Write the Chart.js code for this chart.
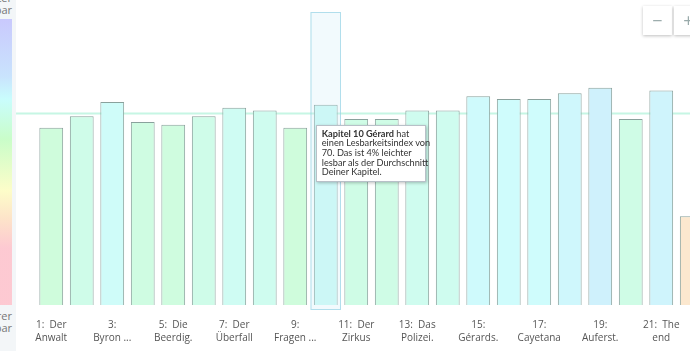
<!DOCTYPE html>
<html>
<head>
<meta charset="utf-8">
<script src="https://cdn.jsdelivr.net/npm/chart.js@4.4.0/dist/chart.umd.min.js"></script>
<style>
	body { margin: 0; width: 690px; height: 351px; overflow: hidden; position: relative; background: #fff; font-family: "Open Sans", sans-serif; }
	#wrap { position: absolute; left: 0; top: 0; width: 707px; height: 351px; }
	.side { position: absolute; left: 0; top: 0; width: 16px; height: 351px; background: #f3f6f8; }
	.grad { position: absolute; left: 0; top: 19px; width: 12px; height: 286px; }
	.side-label { position: absolute; right: 678px; width: 80px; text-align: right; font-size: 11px; line-height: 12px; color: #777; }
	.zoom-btn { position: absolute; top: 6px; width: 29px; height: 29px; background: #fff; box-shadow: 0 1px 3px rgba(0,0,0,0.25); color: #9aa; font-size: 18px; line-height: 28px; text-align: center; }
	#tip { position: absolute; width: 100px; padding: 3px 3px 4px 5px; background: #fff; border: 1px solid #b8c0c8; box-shadow: 1px 1px 3px rgba(0,0,0,0.25); font-family: Lato, sans-serif; font-size: 9.2px; line-height: 9.6px; color: #333; white-space: nowrap; }
</style>
</head>
<body>
<div class="side"><div class="grad" id="grad"></div></div>
<div class="side-label" style="top:-8px;">leichter<br>lesbar</div>
<div class="side-label" style="top:310px;">schwerer<br>lesbar</div>
<div id="wrap"><canvas id="myChart" width="707" height="351"></canvas></div>
<div class="zoom-btn" style="left:643px;">&minus;</div>
<div class="zoom-btn" style="left:674px;">+</div>
<div id="tip"></div>

<script>
// Kapitel (Achsenbeschriftung, zweizeilig)
const xLabels = [
	['1:  Der', 'Anwalt'], ['2:', 'Die Reise'], ['3:', 'Byron ...'], ['4:', 'Das Haus'],
	['5:  Die', 'Beerdig.'], ['6:', 'Der Brief'], ['7:  Der', 'Überfall'], ['8:', 'Die Nacht'],
	['9:', 'Fragen ...'], ['10:', 'Gérard'], ['11:  Der', 'Zirkus'], ['12:', 'Die Spur'],
	['13:  Das', 'Polizei.'], ['14:', 'Verhör'], ['15:', 'Gérards.'], ['16:', 'Die Flucht'],
	['17:', 'Cayetana'], ['18:', 'Das Ende'], ['19:', 'Auferst.'], ['20:', 'Zurück'],
	['21:  The', 'end'], ['22:', 'Epilog']
];
// Lesbarkeitsindex pro Kapitel
const readability = [62, 66, 71, 64, 63, 66, 69, 68, 62, 70, 65, 65, 68, 68, 73, 72, 72, 74, 76, 65, 75, 31];
const averageIndex = 67;
const hoverIndex = 9;
const hoverTitle = 'Kapitel 10 Gérard';

// Farbskala: Index -> Farbton
const colorStops = [[100, 240], [80, 210], [72, 180], [58, 120], [40, 60], [30, 30], [20, -10], [0, -10]];

function hueFor(v) {
	for (let i = 0; i < colorStops.length - 1; i++) {
		const [v1, h1] = colorStops[i];
		const [v2, h2] = colorStops[i + 1];
		if (v <= v1 && v >= v2) {
			return h1 + (h2 - h1) * (v - v1) / (v2 - v1);
		}
	}
	return -10;
}
function colorFor(v) {
	return `hsl(${hueFor(v).toFixed(1)}, 90%, 90%)`;
}

// Verlaufsbalken links
const gradStops = colorStops.map(([v, h]) => `hsl(${h}, 92%, 89%) ${100 - v}%`);
document.getElementById('grad').style.background = `linear-gradient(to bottom, ${gradStops.join(', ')})`;

const avgLinePlugin = {
	id: 'avgLine',
	beforeDatasetsDraw(chart) {
		const { ctx, scales } = chart;
		const y = scales.y.getPixelForValue(averageIndex);
		ctx.save();
		ctx.strokeStyle = '#c6f6e4';
		ctx.lineWidth = 2;
		ctx.beginPath();
		ctx.moveTo(16, y);
		ctx.lineTo(chart.width, y);
		ctx.stroke();
		ctx.restore();
	}
};

const hoverPlugin = {
	id: 'hoverColumn',
	afterDatasetsDraw(chart) {
		const { ctx, chartArea, scales } = chart;
		const x0 = scales.x.getPixelForValue(hoverIndex - 0.5);
		const x1 = scales.x.getPixelForValue(hoverIndex + 0.5);
		ctx.save();
		ctx.fillStyle = 'rgba(195, 232, 245, 0.22)';
		ctx.strokeStyle = 'rgba(150, 210, 228, 0.7)';
		ctx.lineWidth = 1;
		ctx.fillRect(x0, chartArea.top - 7, x1 - x0, chartArea.bottom - chartArea.top + 12);
		ctx.strokeRect(x0 + 0.5, chartArea.top - 6.5, x1 - x0 - 1, chartArea.bottom - chartArea.top + 11);
		ctx.restore();
	}
};

const chart = new Chart(document.getElementById('myChart'), {
	type: 'bar',
	data: {
		labels: xLabels,
		datasets: [{
			data: readability,
			backgroundColor: readability.map(colorFor),
			borderColor: '#89a19c',
			borderWidth: 1,
			barPercentage: 0.78,
			categoryPercentage: 1
		}]
	},
	plugins: [avgLinePlugin, hoverPlugin],
	options: {
		responsive: false,
		animation: false,
		events: [],
		layout: { padding: { left: 36, top: 19, right: 0, bottom: 0 } },
		plugins: { legend: { display: false }, tooltip: { enabled: false } },
		scales: {
			x: {
				grid: { display: false, drawTicks: false },
				border: { display: false },
				ticks: {
					autoSkip: false,
					maxRotation: 0,
					padding: 14,
					color: '#555',
					font: { family: 'Open Sans', size: 10, lineHeight: 1.3 },
					callback: (val, i) => i % 2 === 0 ? xLabels[i] : ''
				},
				afterFit: (scale) => { scale.height = 46; }
			},
			y: {
				display: false,
				min: 0,
				max: 100
			}
		}
	}
});

// Tooltip für Kapitel 10 (Zeilenumbrüche wie im Original)
const bar = chart.getDatasetMeta(0).data[hoverIndex];
const v = readability[hoverIndex];
const pct = Math.round((v / averageIndex - 1) * 100);
const tip = document.getElementById('tip');
tip.innerHTML = `<b>${hoverTitle}</b> hat<br>einen Lesbarkeitsindex von<br>${v}. Das ist ${pct}% ${pct >= 0 ? 'leichter' : 'schwerer'}<br>lesbar als der Durchschnitt<br>Deiner Kapitel.`;
tip.style.left = (bar.x - 10) + 'px';
tip.style.top = (bar.y + 20) + 'px';
</script>
</body>
</html>
